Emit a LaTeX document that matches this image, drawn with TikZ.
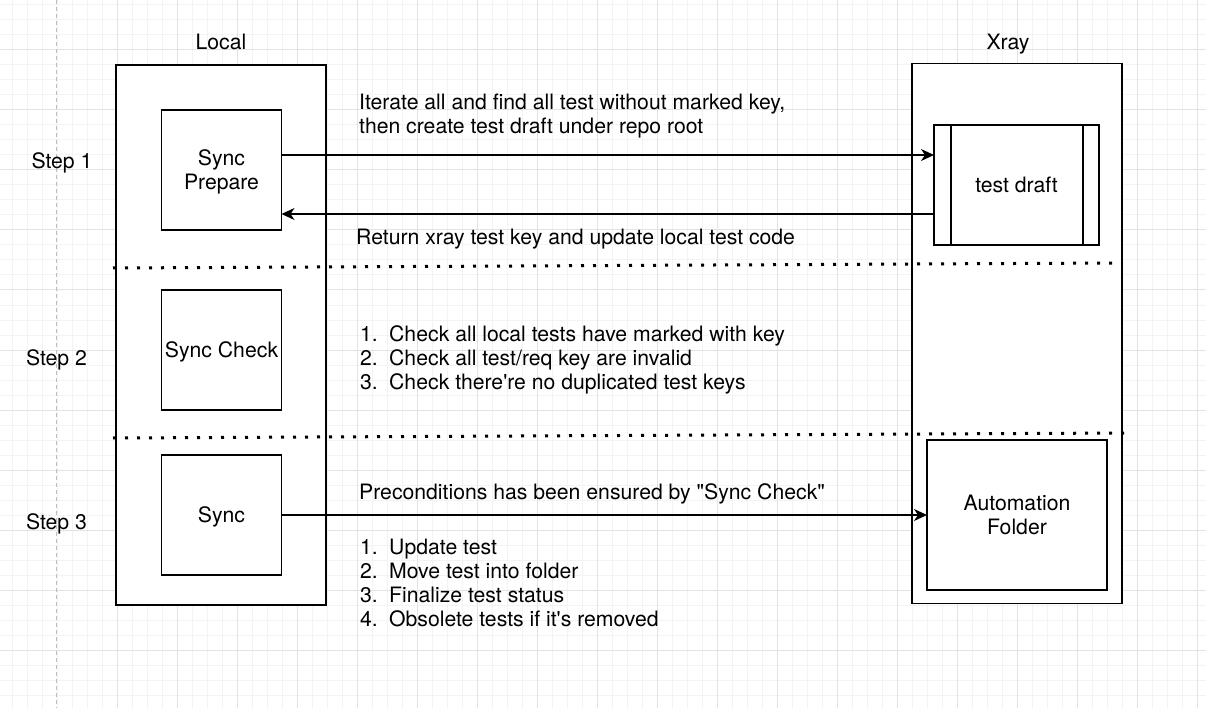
\documentclass[tikz,border=0pt]{standalone}
\usepackage{fontspec}
\setmainfont{TeX Gyre Heros}[Ligatures=TeXOff]
\usetikzlibrary{arrows.meta}
\definecolor{gminor}{HTML}{F3F3F3}
\definecolor{gmajor}{HTML}{E3E3E3}
\definecolor{gdash}{HTML}{BDBDBD}
\newcommand\fst{\rule{0pt}{16pt}}
\newcommand\itm[1]{\makebox[29pt][l]{#1}}
\tikzset{
  frame/.style={draw=black, line width=1.3pt, fill=white, minimum width=210pt, minimum height=540pt, inner sep=0pt, outer sep=0pt},
  stepbox/.style={draw=black, line width=1.3pt, fill=white, minimum width=120pt, minimum height=120pt, inner sep=0pt, outer sep=0pt, align=center},
  oneline/.style={text height=15.5pt, text depth=0pt},
  lbl/.style={inner sep=0pt, anchor=base},
  txt/.style={inner sep=0pt, anchor=north west, align=left},
  arr/.style={line width=1.3pt, -{Stealth[length=13pt,width=12pt,inset=4pt]}},
  sepline/.style={line width=3pt, dash pattern=on 3pt off 9pt},
  gridminor/.style={gminor, line width=1pt},
  gridmajor/.style={gmajor, line width=1pt}
}
\begin{document}
\begin{tikzpicture}[x=1pt,y=-1pt,font=\fontsize{21.2}{24}\selectfont]
\useasboundingbox (0,0) rectangle (1206,708);
\fill[white] (0,0) rectangle (1206,708);
% grid
\foreach \x in {12,27,...,1206} \draw[gridminor] (\x,0) -- (\x,708);
\foreach \y in {5,20,...,708} \draw[gridminor] (0,\y) -- (1206,\y);
\foreach \x in {117,177,...,1206} \draw[gridmajor] (\x,0) -- (\x,708);
\foreach \y in {50,110,...,708} \draw[gridmajor] (0,\y) -- (1206,\y);
\draw[gdash, line width=1pt, dash pattern=on 4pt off 3pt] (56,0) -- (56,708);

% frames
\node[frame] (local) at (221,335) {};
\node[frame] (xray) at (1017,333.5) {};
\node[lbl] (tlocal) at (221,49.5) {Local};
\node[lbl] (txray) at (1008,49.5) {Xray};

% steps
\node[lbl] (s1) at (62,169) {Step 1};
\node[lbl] (s2) at (56.5,365) {Step 2};
\node[lbl] (s3) at (56.5,529) {Step 3};

% local boxes
\node[stepbox] (sp) at (221.5,170) {\rule{0pt}{20pt}Sync\\Prepare};
\node[stepbox, oneline] (sc) at (221.5,350) {Sync Check};
\node[stepbox, oneline] (sy) at (221.5,515) {Sync};

% xray boxes
\node[stepbox, oneline, minimum width=165pt] (td) at (1016.5,185) {test draft};
\draw[line width=1.3pt] ([xshift=17pt]td.north west) -- ([xshift=17pt]td.south west);
\draw[line width=1.3pt] ([xshift=-16pt]td.north east) -- ([xshift=-16pt]td.south east);
\node[stepbox, minimum width=180pt, minimum height=150pt] (af) at (1017,515) {Automation\\Folder};

% separators
\coordinate (d1a) at (113,268);
\coordinate (d1b) at (1115,263);
\coordinate (d2a) at (113,438);
\coordinate (d2b) at (1125,433);
\draw[sepline] (d1a) -- (d1b);
\draw[sepline] (d2a) -- (d2b);

% arrows
\draw[arr] ([yshift=15pt]sp.east) -- ([yshift=15pt]sp.east -| td.west);
\draw[arr] ([yshift=-29pt]td.west) -- ([yshift=-29pt]td.west -| sp.east);
\draw[arr] (sy.east) -- (af.west);

% texts
\node[txt] (t1) at (359,93.3) {\fst Iterate all and find all test without marked key,\\then create test draft under repo root};
\node[txt] (t2) at (356,228) {\fst Return xray test key and update local test code};
\node[txt] (t3) at (360,325) {\fst\itm{1.}Check all local tests have marked with key\\\itm{2.}Check all test/req key are invalid\\\itm{3.}Check there're no duplicated test keys};
\node[txt] (t4) at (359,483.3) {\fst Preconditions has been ensured by "Sync Check"};
\node[txt] (t5) at (360,538) {\fst\itm{1.}Update test\\\itm{2.}Move test into folder\\\itm{3.}Finalize test status\\\itm{4.}Obsolete tests if it's removed};
\end{tikzpicture}
\end{document}
